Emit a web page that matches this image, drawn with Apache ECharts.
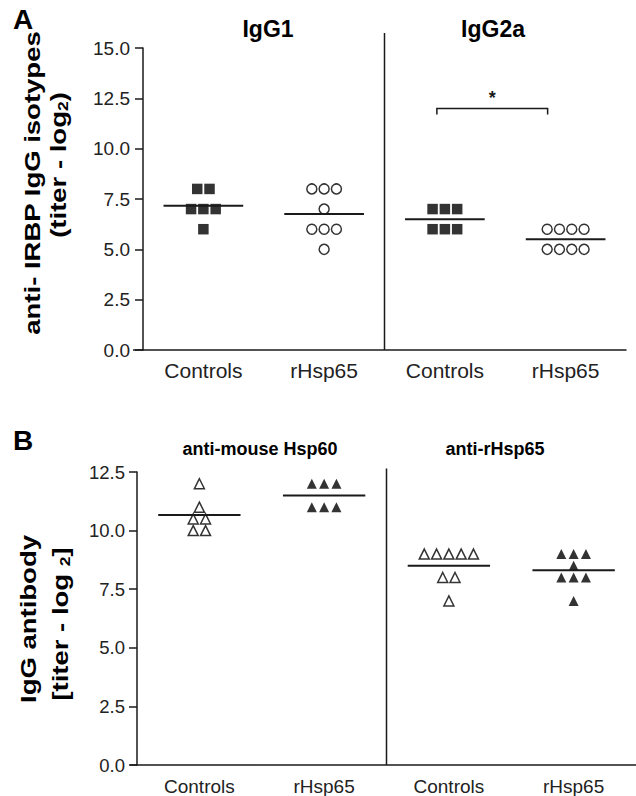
<!DOCTYPE html>
<html><head><meta charset="utf-8">
<script src="https://cdn.jsdelivr.net/npm/echarts@6/dist/echarts.min.js"></script>
<style>html,body{margin:0;padding:0;background:#fff}#c{width:636px;height:796px}</style>
</head><body><div id="c"></div>
<script>
// ---------- data ----------
const categoriesA = ['Controls', 'rHsp65', 'Controls', 'rHsp65'];
const panelTitlesA = ['IgG1', 'IgG2a'];
const igg1Controls = [8, 8, 7, 7, 7, 6];
const igg1Rhsp65 = [8, 8, 8, 7, 6, 6, 6, 5];
const igg2aControls = [7, 7, 7, 6, 6, 6];
const igg2aRhsp65 = [6, 6, 6, 6, 5, 5, 5, 5];
const yTicksA = [0, 2.5, 5, 7.5, 10, 12.5, 15];

const categoriesB = ['Controls', 'rHsp65', 'Controls', 'rHsp65'];
const panelTitlesB = ['anti-mouse Hsp60', 'anti-rHsp65'];
const hsp60Controls = [12, 11, 10.5, 10.5, 10, 10];
const hsp60Rhsp65 = [12, 12, 12, 11, 11, 11];
const rhsp65Controls = [9, 9, 9, 9, 9, 8, 8, 7];
const rhsp65Rhsp65 = [9, 9, 9, 8.5, 8, 8, 8, 7];
const yTicksB = [0, 2.5, 5, 7.5, 10, 12.5];

const significanceA = [[2, 3, 12]]; // from category, to category, level
const sigLabel = '*';

// ---------- helpers ----------
const FONT = '"Liberation Sans", Arial, sans-serif';
const INK = '#1a1a1a';
const mean = a => a.reduce((s, v) => s + v, 0) / a.length;

function swarm(values, catIndex, spacing) {
  const counts = {}, seen = {};
  values.forEach(v => { counts[v] = (counts[v] || 0) + 1; });
  return values.map(v => {
    seen[v] = seen[v] === undefined ? 0 : seen[v] + 1;
    const n = counts[v];
    return { value: [catIndex, v], symbolOffset: [(seen[v] - (n - 1) / 2) * spacing, 0] };
  });
}

const filledSquare = { symbol: 'rect', symbolSize: 10.5, itemStyle: { color: '#000' } };
const openCircle = { symbol: 'circle', symbolSize: 10, itemStyle: { color: '#fff', borderColor: '#000', borderWidth: 1.5 } };
const openTri = { symbol: 'triangle', symbolSize: 10, itemStyle: { color: '#fff', borderColor: '#000', borderWidth: 1.5 } };
const filledTri = { symbol: 'triangle', symbolSize: 10, itemStyle: { color: '#000' } };

function scatter(values, idx, grid, style) {
  return Object.assign({
    type: 'scatter', xAxisIndex: grid, yAxisIndex: grid, z: 2,
    data: swarm(values, idx, 12.3), silent: true, animation: false
  }, style);
}

function meanSeries(groups, grid) {
  return {
    type: 'custom', xAxisIndex: grid, yAxisIndex: grid, z: 3, silent: true, animation: false,
    data: groups.map((g, i) => [i, mean(g)]),
    encode: { x: 0, y: 1 },
    renderItem: (params, api) => {
      const c = api.coord([api.value(0), api.value(1)]);
      const w = api.size([1, 0])[0] * 0.66;
      return { type: 'line', shape: { x1: c[0] - w / 2, y1: c[1], x2: c[0] + w / 2, y2: c[1] },
        style: { stroke: INK, lineWidth: 2 } };
    }
  };
}

function yAxisCfg(grid, ticks, fs, margin) {
  return {
    type: 'value', gridIndex: grid, min: ticks[0], max: ticks[ticks.length - 1], interval: ticks[1] - ticks[0],
    splitLine: { show: false },
    axisLine: { show: true, lineStyle: { color: INK, width: 1.5 } },
    axisTick: { show: true, length: 8, lineStyle: { color: INK, width: 1.5 } },
    axisLabel: { color: '#222', fontSize: fs, fontFamily: FONT, margin: margin, formatter: v => v.toFixed(1) }
  };
}
function xAxisCfg(grid, cats, fs, margin) {
  return {
    type: 'category', gridIndex: grid, data: cats,
    axisLine: { show: true, lineStyle: { color: INK, width: 1.5 } },
    axisTick: { show: false },
    axisLabel: { color: '#222', fontSize: fs, fontFamily: FONT, margin: margin, interval: 0 },
    splitLine: { show: false }
  };
}

const chart = echarts.init(document.getElementById('c'), null, { renderer: 'svg' });

chart.setOption({
  backgroundColor: '#fff',
  animation: false,
  grid: [
    { left: 143, right: 10, top: 48, bottom: 446 },
    { left: 137, right: 0, top: 472, bottom: 31 }
  ],
  xAxis: [xAxisCfg(0, categoriesA, 21, 10), xAxisCfg(1, categoriesB, 19, 12)],
  yAxis: [yAxisCfg(0, yTicksA, 19, 13), yAxisCfg(1, yTicksB, 18.5, 12)],
  series: [
    scatter(igg1Controls, 0, 0, filledSquare),
    scatter(igg1Rhsp65, 1, 0, openCircle),
    scatter(igg2aControls, 2, 0, filledSquare),
    scatter(igg2aRhsp65, 3, 0, openCircle),
    meanSeries([igg1Controls, igg1Rhsp65, igg2aControls, igg2aRhsp65], 0),
    {
      type: 'custom', xAxisIndex: 0, yAxisIndex: 0, z: 3, silent: true, animation: false,
      data: significanceA, encode: { x: [0, 1], y: 2 },
      renderItem: (params, api) => {
        const a = api.coord([api.value(0), api.value(2)]);
        const b = api.coord([api.value(1), api.value(2)]);
        const x1 = a[0] - 8, x2 = b[0] - 18, y = a[1];
        return { type: 'group', children: [
          { type: 'polyline', shape: { points: [[x1, y + 6], [x1, y], [x2, y], [x2, y + 6]] },
            style: { stroke: INK, lineWidth: 1.5, fill: null } },
          { type: 'text', style: { text: sigLabel, x: (x1 + x2) / 2, y: y - 1, align: 'center', verticalAlign: 'bottom',
            font: 'bold 18px ' + FONT, fill: INK } }
        ] };
      }
    },
    scatter(hsp60Controls, 0, 1, openTri),
    scatter(hsp60Rhsp65, 1, 1, filledTri),
    scatter(rhsp65Controls, 2, 1, openTri),
    scatter(rhsp65Rhsp65, 3, 1, filledTri),
    meanSeries([hsp60Controls, hsp60Rhsp65, rhsp65Controls, rhsp65Rhsp65], 1)
  ]
});

// ---------- decorations placed through the axes ----------
const px = (g, x, y) => chart.convertToPixel({ gridIndex: g }, [x, y]);
const aL = px(0, 0, 0), aR = px(0, 1, 0), aC = px(0, 2, 0), aTop = px(0, 0, 15.75);
const bL = px(1, 0, 0), bR = px(1, 1, 0), bC = px(1, 2, 0), bTop = px(1, 0, 12.65);
const divA = (aR[0] + aC[0]) / 2, divB = (bR[0] + bC[0]) / 2;

const lineStyle = { stroke: INK, lineWidth: 1.5 };
const titleFontA = 'bold 23px ' + FONT;
const titleFontB = 'bold 18px ' + FONT;
const yTitleFont = 'bold 22px ' + FONT;

chart.setOption({
  graphic: [
    // dividers
    { type: 'line', shape: { x1: divA, y1: aTop[1], x2: divA, y2: aL[1] }, style: lineStyle, silent: true },
    { type: 'line', shape: { x1: divB, y1: bTop[1], x2: divB, y2: bL[1] }, style: lineStyle, silent: true },
    // x-axis stubs left of y-axis
    { type: 'line', shape: { x1: 133, y1: aL[1], x2: 143, y2: aL[1] }, style: lineStyle, silent: true },
    { type: 'line', shape: { x1: 130, y1: bL[1], x2: 137, y2: bL[1] }, style: lineStyle, silent: true },
    // panel letters
    { type: 'text', x: 23, y: 19, style: { text: 'A', font: 'bold 28px ' + FONT, fill: '#000', align: 'center', verticalAlign: 'middle' } },
    { type: 'text', x: 23, y: 440, style: { text: 'B', font: 'bold 28px ' + FONT, fill: '#000', align: 'center', verticalAlign: 'middle' } },
    // panel titles
    { type: 'text', x: 268, y: 29, style: { text: panelTitlesA[0], font: titleFontA, fill: '#000', align: 'center', verticalAlign: 'middle' } },
    { type: 'text', x: 493, y: 29, style: { text: panelTitlesA[1], font: titleFontA, fill: '#000', align: 'center', verticalAlign: 'middle' } },
    { type: 'text', x: 260, y: 449, style: { text: panelTitlesB[0], font: titleFontB, fill: '#000', align: 'center', verticalAlign: 'middle' } },
    { type: 'text', x: 495, y: 449, style: { text: panelTitlesB[1], font: titleFontB, fill: '#000', align: 'center', verticalAlign: 'middle' } },
    // y-axis titles
    { type: 'text', x: 32, y: 183, rotation: Math.PI / 2, scaleX: 1.25,
      style: { text: 'anti- IRBP IgG isotypes', font: yTitleFont, fill: '#000', align: 'center', verticalAlign: 'middle' } },
    { type: 'text', x: 58, y: 165, rotation: Math.PI / 2, scaleX: 1.25,
      style: { text: '(titer - log{sub|2})', font: yTitleFont, fill: '#000', align: 'center', verticalAlign: 'middle',
        rich: { sub: { font: 'bold 14px ' + FONT, padding: [10, 0, 0, 0] } } } },
    { type: 'text', x: 28, y: 619, rotation: Math.PI / 2, scaleX: 1.25,
      style: { text: 'IgG antibody', font: yTitleFont, fill: '#000', align: 'center', verticalAlign: 'middle' } },
    { type: 'text', x: 60, y: 624, rotation: Math.PI / 2, scaleX: 1.25,
      style: { text: '[titer - log {sub|2}]', font: yTitleFont, fill: '#000', align: 'center', verticalAlign: 'middle',
        rich: { sub: { font: 'bold 14px ' + FONT, padding: [10, 0, 0, 0] } } } }
  ]
});
</script>
</body></html>
